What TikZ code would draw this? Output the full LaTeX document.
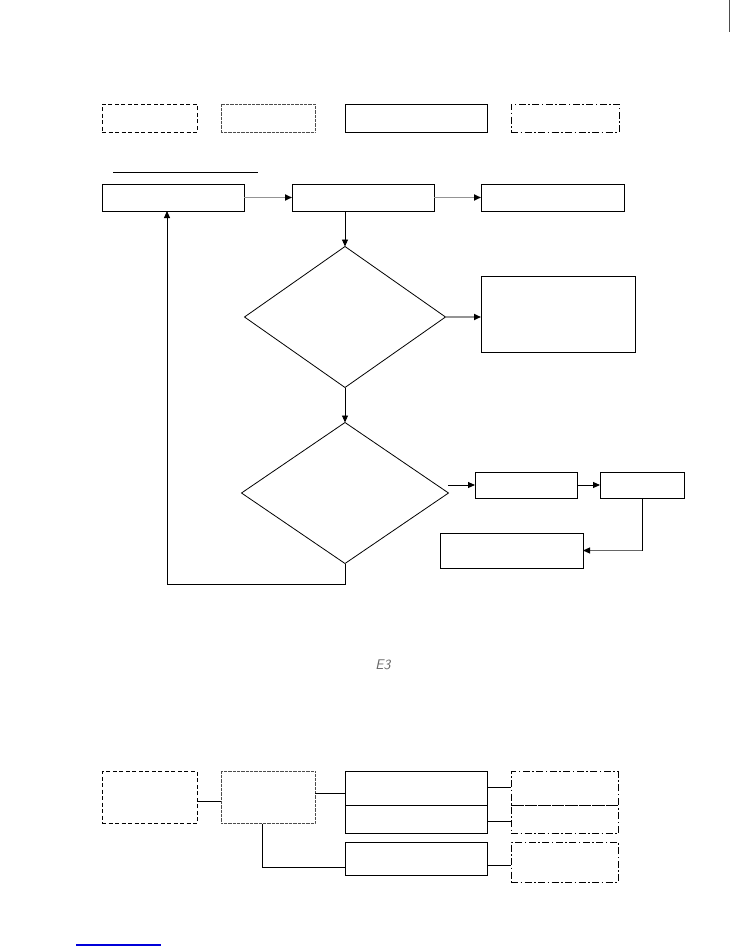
\documentclass[tikz,border=0pt]{standalone}
\usetikzlibrary{arrows.meta,shapes.geometric,calc}
\begin{document}
\begin{tikzpicture}[x=1pt,y=-1pt,
  box/.style={draw,line width=0.9pt,inner sep=0pt,outer sep=0pt},
  dashbox/.style={draw,line width=0.9pt,dash pattern=on 4pt off 2.5pt,inner sep=0pt,outer sep=0pt},
  dotbox/.style={draw=black!70,line width=0.9pt,dash pattern=on 0.8pt off 0.5pt,inner sep=0pt,outer sep=0pt},
  dashdotbox/.style={draw,line width=0.9pt,dash pattern=on 7pt off 2.5pt on 1.5pt off 2.5pt,inner sep=0pt,outer sep=0pt},
  dia/.style={draw,diamond,line width=0.8pt,inner sep=0pt,outer sep=0pt},
  tip/.style={-{Triangle[length=7pt,width=6pt,fill=black,color=black]}},
  garrow/.style={tip,draw=black!42,line width=1.6pt},
  barrow/.style={tip,draw=black,line width=0.9pt},
  conn/.style={draw=black,line width=0.9pt}]
\useasboundingbox (0,0) rectangle (734,950);
% legend row
\node[dashbox,minimum width=95pt,minimum height=28pt] (L1) at (149.5,118) {};
\node[dotbox,minimum width=94pt,minimum height=28pt] (L2) at (268,118) {};
\node[box,minimum width=142pt,minimum height=28pt] (L3) at (416,118) {};
\node[dashdotbox,minimum width=108pt,minimum height=28pt] (L4) at (565,118) {};
% underline
\coordinate (u1) at (113,172);
\coordinate (u2) at (258,172);
\draw[conn] (u1) -- (u2);
% top row
\node[box,minimum width=142pt,minimum height=27pt] (A) at (173,197.5) {};
\node[box,minimum width=142pt,minimum height=27pt] (B) at (363,197.5) {};
\node[box,minimum width=143pt,minimum height=27pt] (C) at (552.5,197.5) {};
\draw[garrow] (A) -- (B);
\draw[garrow] (B) -- (C);
% diamonds
\node[dia,minimum width=201pt,minimum height=141pt] (D1) at (345,317) {};
\node[box,minimum width=154pt,minimum height=76pt] (E) at (558,314) {};
\node[dia,minimum width=207pt,minimum height=141pt] (D2) at (345,493) {};
\draw[barrow] (B.south -| D1.north) -- (D1.north);
\draw[garrow] (D1.east) -- (D1.east -| E.west);
\draw[barrow] (D1.south) -- (D2.north);
% lower right boxes
\node[box,minimum width=102pt,minimum height=26pt] (F) at (526,485) {};
\node[box,minimum width=84pt,minimum height=26pt] (G) at (642,485) {};
\node[box,minimum width=143pt,minimum height=35pt] (H) at (511.5,550.5) {};
\coordinate (dstart) at (448,485);
\draw[barrow] (dstart) -- (F.west);
\draw[barrow] (F) -- (G);
\draw[conn] (G.south) -- (G.south |- H.east);
\draw[tip,draw=black!60,line width=1pt] (G.south |- H.east) -- (H.east);
% loop back
\coordinate (loop) at (167,584);
\draw[conn] (D2.south) |- (loop);
\draw[barrow] (loop) -- (loop |- A.south);
% symbol
\node[text=black!60,font=\sffamily\slshape\fontsize{14}{14}\selectfont] (sym) at (383,665) {E3};
% bottom section
\node[dashbox,minimum width=95pt,minimum height=52pt] (P) at (149.5,797.5) {};
\node[dotbox,minimum width=94pt,minimum height=52pt] (Q) at (268,797.5) {};
\node[box,minimum width=142pt,minimum height=34pt] (R1) at (416,788.5) {};
\node[box,minimum width=142pt,minimum height=28pt] (R2) at (416,819.5) {};
\node[box,minimum width=142pt,minimum height=33pt] (R3) at (416,859) {};
\node[dashdotbox,minimum width=107pt,minimum height=34pt] (S1) at (564.5,788.5) {};
\node[dashdotbox,minimum width=107pt,minimum height=28pt] (S2) at (564.5,819.5) {};
\node[dashdotbox,minimum width=107pt,minimum height=40pt] (S3) at (564.5,862) {};
\draw[conn] ([yshift=-3.5pt]P.east) -- ([yshift=-3.5pt]Q.west);
\draw[conn] ([yshift=4.5pt]Q.east) -- ([yshift=4.5pt]Q.east -| R1.west);
\draw[conn] ([xshift=-6pt]Q.south) |- ([yshift=-8pt]R3.west);
\draw[conn] ([yshift=1.5pt]R1.east) -- ([yshift=1.5pt]R1.east -| S1.west);
\draw[conn] ([yshift=-1.5pt]R2.east) -- ([yshift=-1.5pt]R2.east -| S2.west);
\draw[conn] ([yshift=-6pt]R3.east) -- ([yshift=-6pt]R3.east -| S3.west);
% page marks
\coordinate (b1) at (76,945);
\coordinate (b2) at (161,945);
\draw[draw=blue!85!black,line width=1.3pt] (b1) -- (b2);
\coordinate (t1) at (729,0);
\coordinate (t2) at (729,32);
\draw[draw=black!70,line width=0.8pt] (t1) -- (t2);
\end{tikzpicture}
\end{document}
